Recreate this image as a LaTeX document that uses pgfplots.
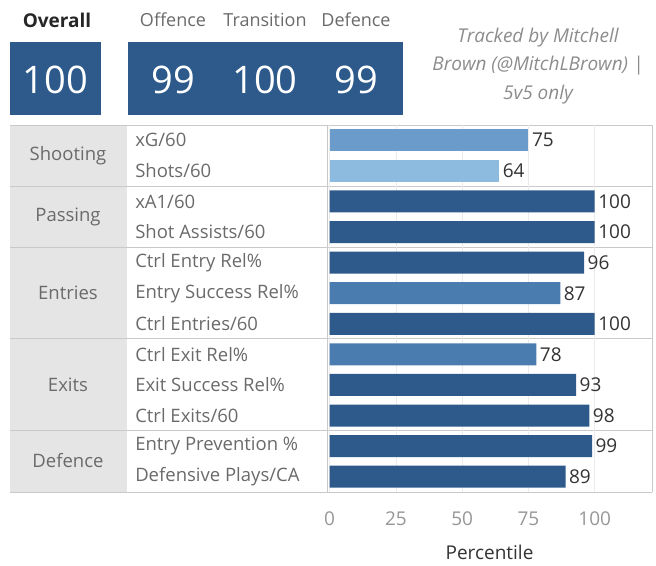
\documentclass[border=0pt]{standalone}
\usepackage{fontspec}
\setmainfont{Open Sans}
\usepackage{pgfplots}
\pgfplotsset{compat=1.18}
\usepackage{pgfplotstable}

\definecolor{darkblue}{HTML}{2D5A8A}
\definecolor{midblue}{HTML}{4A7CB0}
\definecolor{xgblue}{HTML}{6A9BCA}
\definecolor{lightblue}{HTML}{8DBADF}
\definecolor{cellgray}{HTML}{E5E5E5}
\definecolor{rulegray}{HTML}{C9C9C9}
\definecolor{labelgray}{HTML}{6A6A6A}
\definecolor{valgray}{HTML}{333333}
\definecolor{tickgray}{HTML}{8C8C8C}

\newcommand\fs[1]{\fontsize{#1}{#1}\selectfont}

% rows 0..11 top to bottom
\pgfplotstableread{
y val
2 100
3 100
4 96
6 100
8 93
9 98
10 99
11 89
}\darkbars
\pgfplotstableread{
y val
5 87
7 78
}\midbars
\pgfplotstableread{
y val
0 75
}\xgbar
\pgfplotstableread{
y val
1 64
}\shotsbar

\begin{document}
\begin{tikzpicture}
\useasboundingbox (0,0) rectangle (656pt,-565pt);

% header
\node[font=\fs{19}\bfseries, text=black!85] at (57pt,-20pt) {Overall};
\fill[darkblue] (10pt,-42pt) rectangle (101pt,-115pt);
\node[font=\fs{38}, text=white] at (55.5pt,-80pt) {100};
\fill[darkblue] (128pt,-42pt) rectangle (403pt,-115pt);
\foreach \x/\t/\v in {173/Offence/99, 265/Transition/100, 356/Defence/99}{
  \node[font=\fs{18}, text=labelgray] at (\x pt,-20pt) {\t};
  \node[font=\fs{38}, text=white] at (\x pt,-80pt) {\v};
}
\node[font=\fs{19}\itshape, text=tickgray, align=center] at (538pt,-66pt)
  {Tracked by Mitchell\\[8.5pt]Brown (@MitchLBrown) |\\[8.5pt]5v5 only};

% table frame
\fill[cellgray] (10pt,-125pt) rectangle (127pt,-492pt);
\foreach \y in {125,186.2,247.3,338.5,430.2,492}
  \draw[rulegray, line width=0.8pt] (10pt,-\y pt) -- (652pt,-\y pt);
\draw[rulegray, line width=0.8pt] (327pt,-125pt) -- (327pt,-492pt);
\draw[rulegray, line width=0.8pt] (652pt,-125pt) -- (652pt,-492pt);

\foreach \y/\t in {155.6/Shooting, 216.7/Passing, 293/Entries, 384.6/Exits, 461/Defence}
  \node[font=\fs{18.5}, text=labelgray] at (68pt,-\y pt) {\t};

\begin{axis}[
  at={(327pt,-125pt)}, anchor=north west,
  scale only axis, width=325pt, height=367pt,
  xmin=-1, xmax=121.6, ymin=-0.5, ymax=11.5,
  y dir=reverse,
  xbar, bar width=22pt, bar shift=0pt,
  axis line style={draw=none},
  tick style={draw=none},
  xtick={0,25,50,75,100},
  xmajorgrids, major grid style={draw=black!8, line width=0.6pt},
  ytick={0,...,11},
  yticklabels={xG/60, Shots/60, xA1/60, Shot Assists/60, Ctrl Entry Rel\%,
    Entry Success Rel\%, Ctrl Entries/60, Ctrl Exit Rel\%, Exit Success Rel\%,
    Ctrl Exits/60, Entry Prevention \%, Defensive Plays/CA},
  yticklabel style={anchor=west, xshift=-191pt, font=\fs{18.5}, text=labelgray},
  xticklabel style={font=\fs{19}, text=tickgray!90, yshift=-16pt},
  /pgf/number format/assume math mode=true,
  xlabel={Percentile},
  xlabel style={at={(axis description cs:0.5,-0.165)}, anchor=center,
    inner sep=0pt, font=\fs{19}, text=valgray},
  nodes near coords,
  every node near coord/.append style={font=\fs{19}, text=valgray, anchor=west, xshift=0pt},
  clip=false,
]
\addplot[draw=none, fill=darkblue] table[x=val, y=y] {\darkbars};
\addplot[draw=none, fill=midblue] table[x=val, y=y] {\midbars};
\addplot[draw=none, fill=xgblue] table[x=val, y=y] {\xgbar};
\addplot[draw=none, fill=lightblue] table[x=val, y=y] {\shotsbar};
\end{axis}
\end{tikzpicture}
\end{document}
